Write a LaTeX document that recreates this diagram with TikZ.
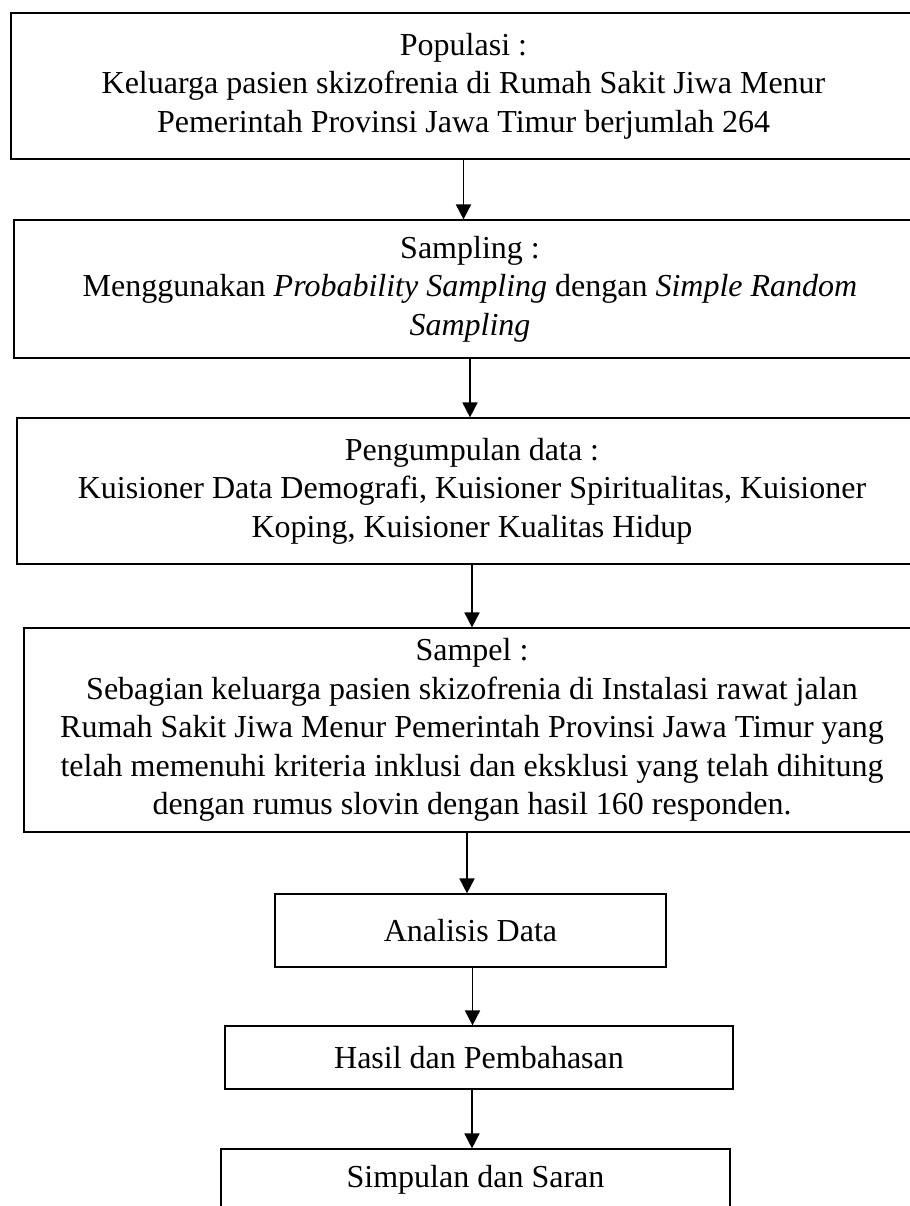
\documentclass[tikz,border=0pt]{standalone}
\usepackage{fontspec}
\setmainfont{Liberation Serif}
\usetikzlibrary{arrows.meta}

\begin{document}
\begin{tikzpicture}[x=0.5pt,y=-0.5pt,
	box/.style={draw, line width=0.6pt, align=center, inner sep=0pt, font=\fontsize{16}{19.3}\selectfont},
	arr/.style={-{Triangle[length=7.5pt,width=7.5pt]}, line width=0.9pt}]
	\clip (0,0) rectangle (910,1206);
	\node (pop) [box, minimum width=452.5pt, minimum height=73pt] at (463.5,86) {Populasi :\\ Keluarga pasien skizofrenia di Rumah Sakit Jiwa Menur\\ Pemerintah Provinsi Jawa Timur berjumlah 264};
	\node (samp) [box, minimum width=456pt, minimum height=69pt] at (470,289) {Sampling :\\ Menggunakan \textit{Probability Sampling} dengan \textit{Simple Random}\\ \textit{Sampling}};
	\node (kumpul) [box, minimum width=455pt, minimum height=73pt] at (472,491) {Pengumpulan data :\\ Kuisioner Data Demografi, Kuisioner Spiritualitas, Kuisioner\\ Koping, Kuisioner Kualitas Hidup};
	\node (sampel) [box, minimum width=448pt, minimum height=102pt] at (472,730) {Sampel :\\ Sebagian keluarga pasien skizofrenia di Instalasi rawat jalan\\ Rumah Sakit Jiwa Menur Pemerintah Provinsi Jawa Timur yang\\ telah memenuhi kriteria inklusi dan eksklusi yang telah dihitung\\ dengan rumus slovin dengan hasil 160 responden.};
	\node (analisis) [box, minimum width=195.5pt, minimum height=36.5pt] at (470.5,930.5) {Analisis Data};
	\node (hasil) [box, minimum width=254pt, minimum height=31.5pt] at (479,1057.5) {Hasil dan Pembahasan};
	\node (simpulan) [box, minimum width=254.5pt, minimum height=31pt] at (475.5,1180) {Simpulan dan Saran};
	
	\draw[arr] (pop.south) -- (pop.south |- samp.north);
	\draw[arr] (samp.south) -- (samp.south |- kumpul.north);
	\draw[arr] (kumpul.south) -- (kumpul.south |- sampel.north);
	\draw[arr] ([xshift=-2.5pt]sampel.south) -- ([xshift=-2.5pt]sampel.south |- analisis.north);
	\draw[arr] ([xshift=1pt]analisis.south) -- ([xshift=1pt]analisis.south |- hasil.north);
	\draw[arr] ([xshift=-3.5pt]hasil.south) -- ([xshift=-3.5pt]hasil.south |- simpulan.north);
\end{tikzpicture}
\end{document}
